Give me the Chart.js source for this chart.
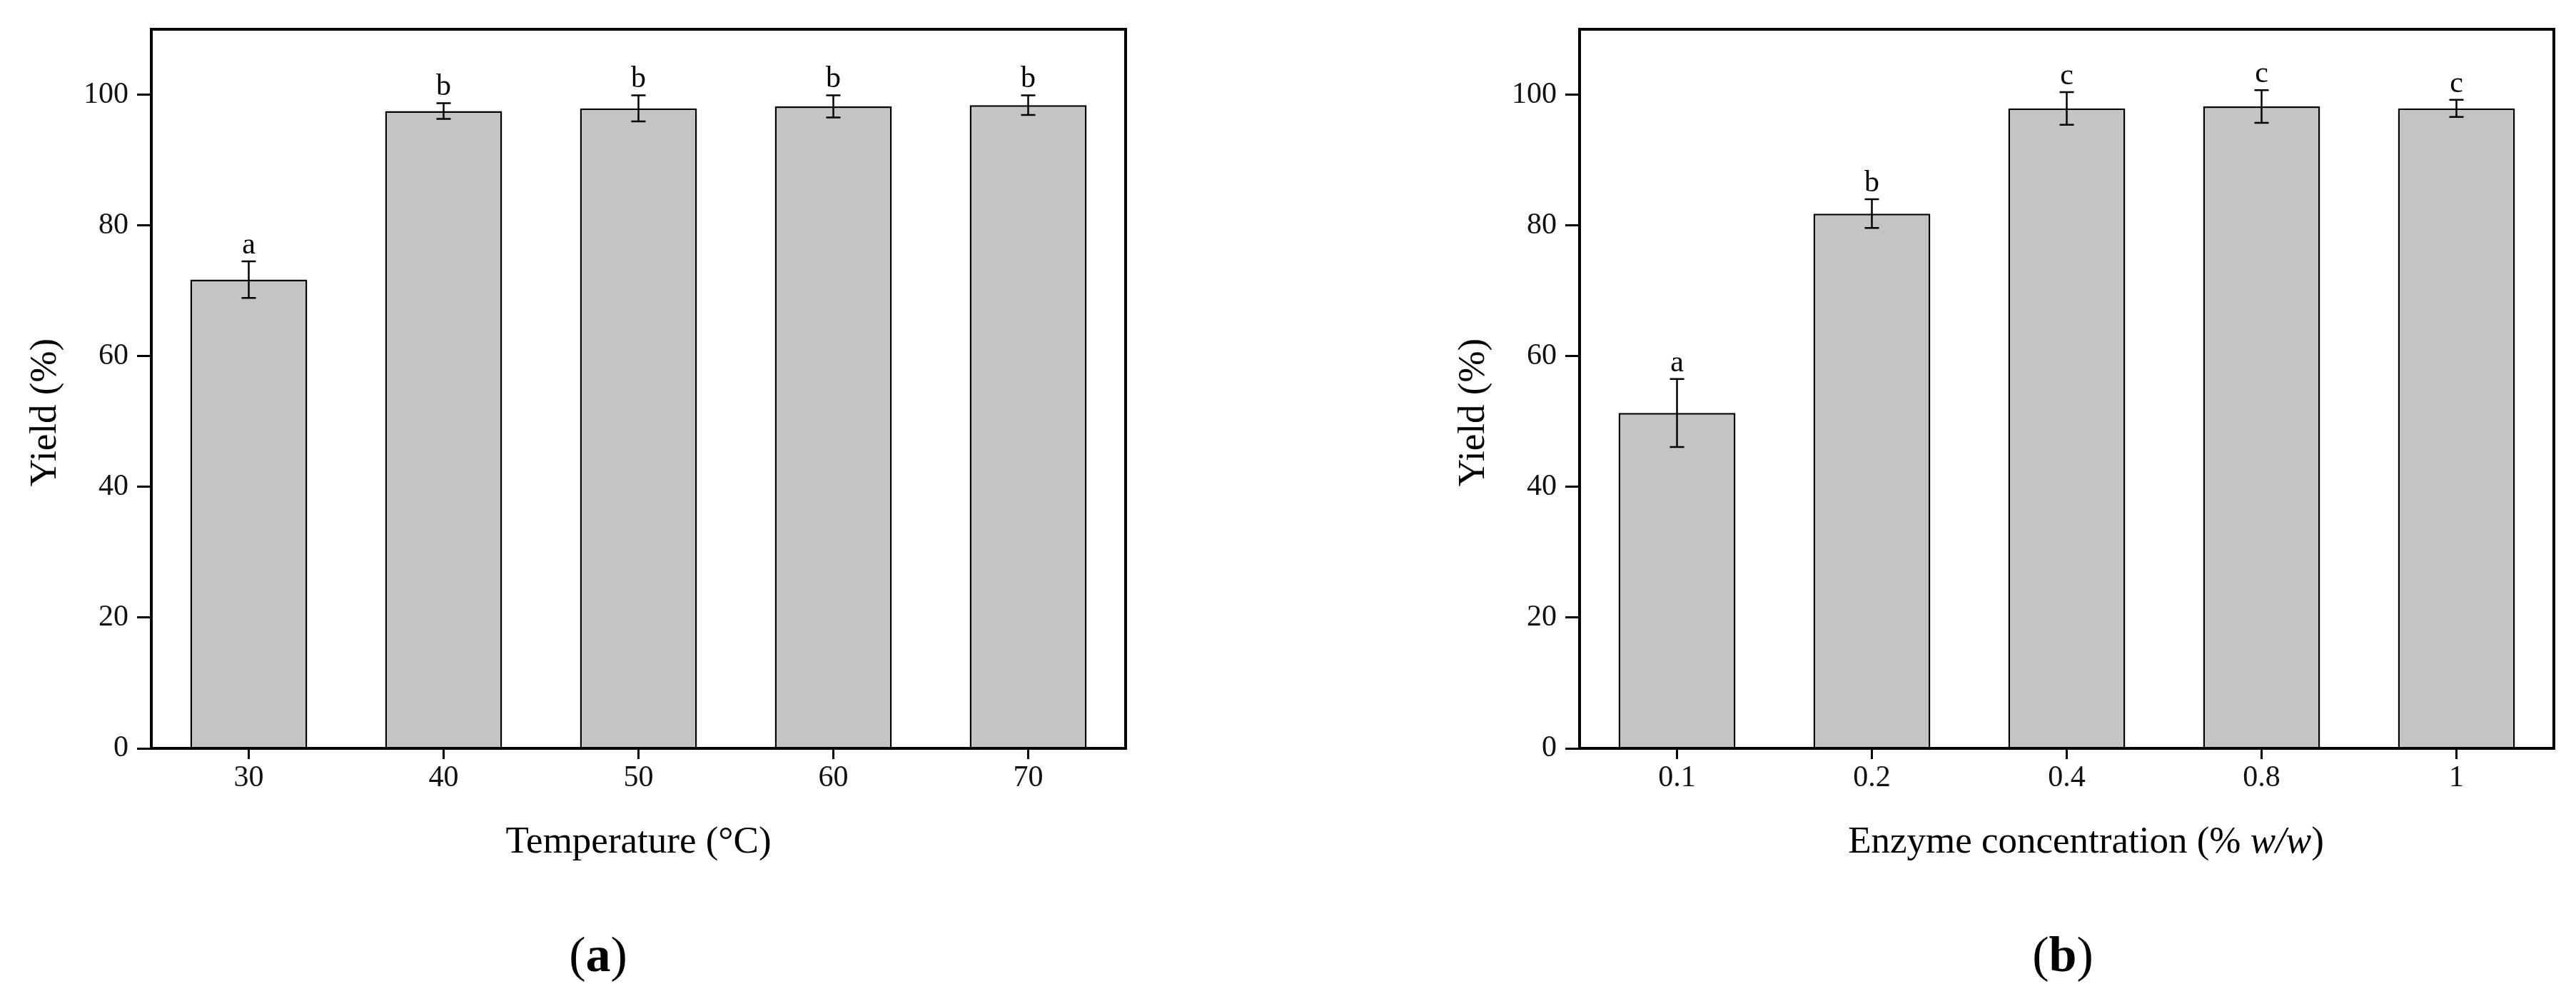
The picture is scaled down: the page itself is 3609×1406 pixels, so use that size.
<!DOCTYPE html>
<html>
<head>
<meta charset="utf-8">
<script src="https://cdn.jsdelivr.net/npm/chart.js@4.4.0/dist/chart.umd.min.js"></script>
<style>
  body { margin: 0; background: #fff; width: 3609px; height: 1406px; position: relative; overflow: hidden; }
  canvas { position: absolute; top: 0; }
  #chartA { left: 0; }
  #chartB { left: 2001px; }
  .panel { position: absolute; top: 1302px; width: 200px; margin-left: -100px; text-align: center;
           font: 70px "Liberation Serif", serif; line-height: 1; color: #000; }
</style>
</head>
<body>
<canvas id="chartA" width="1800" height="1240"></canvas>
<canvas id="chartB" width="1600" height="1240"></canvas>
<div class="panel" style="left: 838px;">(<b>a</b>)</div>
<div class="panel" style="left: 2890px;">(<b>b</b>)</div>

<script>
// datos
const temperatures = ['30', '40', '50', '60', '70'];
const tempYield = [71.7, 97.5, 97.9, 98.2, 98.4];
const tempError = [2.8, 1.2, 2.0, 1.7, 1.5];
const tempLetters = ['a', 'b', 'b', 'b', 'b'];

const enzymeConc = ['0.1', '0.2', '0.4', '0.8', '1'];
const enzymeYield = [51.3, 81.8, 97.9, 98.2, 97.9];
const enzymeError = [5.2, 2.2, 2.5, 2.5, 1.3];
const enzymeLetters = ['a', 'b', 'c', 'c', 'c'];

const yTicks = [0, 20, 40, 60, 80, 100];
const yMax = 110;

const serif = '"Liberation Serif", "Times New Roman", serif';

// barras de error, letras, marco y titulos
const extras = {
    id: 'extras',
    afterDatasetsDraw(chart, args, opts) {
        const ctx = chart.ctx;
        const ds = chart.data.datasets[0];
        const x = chart.scales.x;
        const y = chart.scales.y;
        ctx.save();
        ctx.strokeStyle = '#000';
        ctx.fillStyle = '#000';
        ctx.lineWidth = 2.5;
        ds.data.forEach((v, i) => {
            const px = x.getPixelForValue(i);
            const top = y.getPixelForValue(v + ds.errors[i]);
            const bot = y.getPixelForValue(v - ds.errors[i]);
            ctx.beginPath();
            ctx.moveTo(px, top); ctx.lineTo(px, bot);
            ctx.moveTo(px - 10, top); ctx.lineTo(px + 10, top);
            ctx.moveTo(px - 10, bot); ctx.lineTo(px + 10, bot);
            ctx.stroke();
            ctx.font = '42px ' + serif;
            ctx.textAlign = 'center';
            ctx.textBaseline = 'alphabetic';
            ctx.fillText(ds.letters[i], px, top - 11);
        });
        const a = chart.chartArea;
        ctx.lineWidth = 4;
        ctx.strokeRect(a.left, a.top, a.right - a.left, a.bottom - a.top);

        // titulo del eje y
        ctx.font = '53px ' + serif;
        ctx.textAlign = 'center';
        ctx.textBaseline = 'middle';
        ctx.save();
        ctx.translate(opts.yTitleX, (a.top + a.bottom) / 2 + 33);
        ctx.rotate(-Math.PI / 2);
        ctx.fillText('Yield (%)', 0, 0);
        ctx.restore();

        // titulo del eje x (partes en cursiva)
        const parts = opts.xTitle;
        let total = 0;
        parts.forEach(p => {
            ctx.font = (p.italic ? 'italic ' : '') + '53px ' + serif;
            p.w = ctx.measureText(p.text).width;
            total += p.w;
        });
        let cx = (a.left + a.right) / 2 + opts.xTitleShift - total / 2;
        ctx.textAlign = 'left';
        parts.forEach(p => {
            ctx.font = (p.italic ? 'italic ' : '') + '53px ' + serif;
            ctx.fillText(p.text, cx, opts.xTitleY);
            cx += p.w;
        });
        ctx.restore();
    }
};

function makeChart(id, labels, values, errors, letters, xTitle, xShift, padRight) {
    const ctx = document.getElementById(id).getContext('2d');
    return new Chart(ctx, {
        type: 'bar',
        data: {
            labels: labels,
            datasets: [{
                data: values,
                errors: errors,
                letters: letters,
                backgroundColor: '#c4c4c4',
                borderColor: '#000',
                borderWidth: 2.5,
                barPercentage: 0.6,
                categoryPercentage: 1.0
            }]
        },
        options: {
            responsive: false,
            animation: false,
            events: [],
            layout: { padding: { left: 0, top: 41, right: padRight, bottom: 0 } },
            plugins: {
                legend: { display: false },
                tooltip: { enabled: false },
                extras: { yTitleX: 64, xTitle: xTitle, xTitleShift: xShift, xTitleY: 1180 }
            },
            scales: {
                x: {
                    afterFit: s => { s.height = 1240 - 1048; },
                    grid: { display: true, offset: false, drawOnChartArea: false, drawTicks: true,
                            tickLength: 15, color: '#000', lineWidth: 3 },
                    border: { display: true, color: '#000', width: 4 },
                    ticks: { color: '#111', padding: 2, font: { family: serif, size: 42 } }
                },
                y: {
                    min: 0,
                    max: yMax,
                    afterFit: s => { s.width = 212; },
                    afterBuildTicks: s => { s.ticks = yTicks.map(v => ({ value: v })); },
                    grid: { display: true, drawOnChartArea: false, drawTicks: true,
                            tickLength: 20, color: '#000', lineWidth: 3 },
                    border: { display: true, color: '#000', width: 4 },
                    ticks: { color: '#111', padding: 12, font: { family: serif, size: 42 } }
                }
            }
        },
        plugins: [extras]
    });
}

makeChart('chartA', temperatures, tempYield, tempError, tempLetters,
    [{ text: 'Temperature (°C)' }], 0, 1800 - 1577);
makeChart('chartB', enzymeConc, enzymeYield, enzymeError, enzymeLetters,
    [{ text: 'Enzyme concentration (% ' }, { text: 'w/w', italic: true }, { text: ')' }], 27, 1600 - 1577);
</script>
</body>
</html>
